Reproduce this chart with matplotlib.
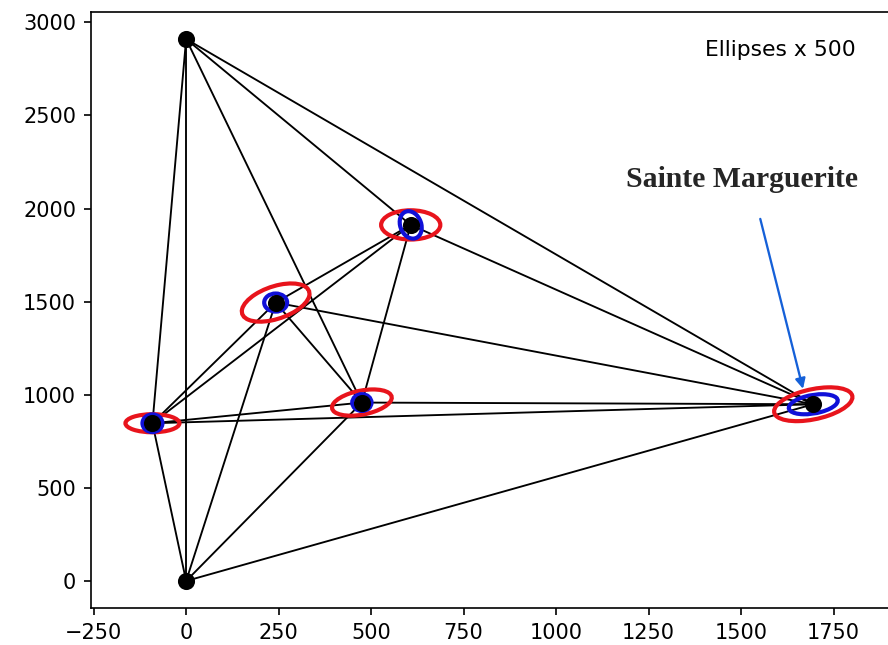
import matplotlib
matplotlib.use('Agg')
import matplotlib.pyplot as plt
from matplotlib.patches import Ellipse

# station coordinates (m)
xs = [0, 0, -91, 242, 607, 475, 1695]
ys = [2910, 0, 847, 1495, 1912, 958, 949]

# observed directions between stations (index pairs)
edges = [(0, 1), (0, 2), (0, 4), (0, 5), (0, 6),
         (1, 2), (1, 3), (1, 5), (1, 6),
         (2, 3), (2, 4), (2, 5), (2, 6),
         (3, 4), (3, 5), (3, 6),
         (4, 5), (4, 6),
         (5, 6)]

# error ellipses (already x 500): station index, width, height, angle
ell_idx = [2, 3, 4, 5, 6]
red_w = [146, 236, 160, 179, 237]
red_h = [97, 141, 157, 118, 147]
red_a = [0, 52, 0, 35, 35]
blue_w = [54, 62, 58, 52, 143]
blue_h = [95, 97, 148, 90, 93]
blue_a = [0, 0, 5.6, 0, 30]

label_txt = 'Sainte Marguerite'

fig = plt.figure(figsize=(5.92, 4.30), dpi=150)
ax = fig.add_axes([0.1021, 0.0574, 0.920, 0.9245])

for i, j in edges:
    ax.plot([xs[i], xs[j]], [ys[i], ys[j]], color='black', lw=0.9, zorder=1)

for k, idx in enumerate(ell_idx):
    ax.add_patch(Ellipse((xs[idx], ys[idx]), red_w[k], red_h[k], angle=red_a[k],
                         fill=False, edgecolor='#e8141c', lw=2.0, zorder=2))
    ax.add_patch(Ellipse((xs[idx], ys[idx]), blue_w[k], blue_h[k], angle=blue_a[k],
                         fill=False, edgecolor='#1010d8', lw=2.0, zorder=3))

ax.plot(xs, ys, 'o', color='black', markersize=7.2, zorder=4)

ax.text(1811, 2820, 'Ellipses x 500', ha='right', va='baseline', fontsize=10.5)

ax.annotate('', xy=(1670, 1010), xytext=(1549, 1966), textcoords='data',
            arrowprops=dict(arrowstyle='-|>', color='#1560d8', lw=1.1, mutation_scale=10))
ax.text(1503, 2116, label_txt, ha='center', va='baseline', fontsize=14.3,
        family='Liberation Serif', fontweight='bold', color='#262626')

ax.set_xlim(-258, 1950)
ax.set_ylim(-145, 3057)
ax.set_xticks(range(-250, 2000, 250))
ax.set_yticks(range(0, 3500, 500))

plt.savefig('out.png', dpi=150)
